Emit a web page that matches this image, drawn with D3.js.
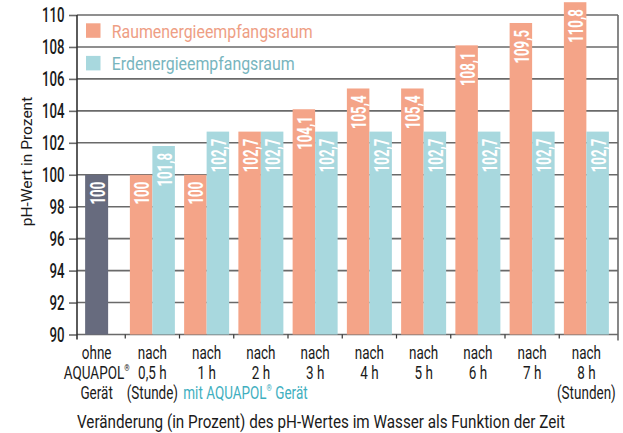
<!DOCTYPE html>
<html><head><meta charset="utf-8">
<script src="https://cdn.jsdelivr.net/npm/d3@7"></script>
<style>
body{margin:0;background:#fff;}
svg text{font-family:Roboto,"DejaVu Sans",sans-serif;}
</style></head>
<body><svg id="c" width="623" height="433"></svg>
<script>
const categories = ["ohne","0,5","1","2","3","4","5","6","7","8"];
const xLabelLines = [
  ["ohne","AQUAPOL®","Gerät"],
  ["nach","0,5 h","(Stunde)"],
  ["nach","1 h"],["nach","2 h"],["nach","3 h"],["nach","4 h"],
  ["nach","5 h"],["nach","6 h"],["nach","7 h"],["nach","8 h","(Stunden)"]
];
const baselineValue = [100];
const raumValues = [null,100,100,102.7,104.1,105.4,105.4,108.1,109.5,110.8];
const erdValues  = [null,101.8,102.7,102.7,102.7,102.7,102.7,102.7,102.7,102.7];
const seriesNames = ["Raumenergieempfangsraum","Erdenergieempfangsraum"];
const yTicks = [90,92,94,96,98,100,102,104,106,108,110];
const xTitle = "Veränderung (in Prozent) des pH-Wertes im Wasser als Funktion der Zeit";
const yTitle = "pH-Wert in Prozent";
const mitText = "mit AQUAPOL® Gerät";

const C = {raum:"#F4A488", erd:"#A8D8DE", base:"#676B7E", grid:"#6a6a6a",
           raumText:"#EE9E84", erdText:"#78B5BE", mit:"#3FAFC0", text:"#1a1a1a"};

const svg = d3.select("#c");
const L = 77, R = 618, T = 15, B = 334.5;
const y = d3.scaleLinear().domain([90,110]).range([B,T]);
const x = d3.scaleBand().domain(categories).range([71,613.5]).paddingInner(0).paddingOuter(0);
const inner = d3.scaleBand().domain(["raum","erd"]).range([0,45]);
const SX = 0.71;

function ctext(parent, xp, yp, str, size, sx, anchor, fill, weight){
  const t = parent.append("text").attr("transform",`translate(${xp},${yp}) scale(${sx},1)`)
    .attr("text-anchor",anchor).attr("font-size",size).attr("fill",fill).attr("font-weight",weight||400);
  if(str.includes("®")){
    const p = str.split("®");
    t.append("tspan").text(p[0]);
    t.append("tspan").attr("font-size",size*0.5).attr("dy",-size*0.38).text("®");
    if(p[1]) t.append("tspan").attr("dy",size*0.38).text(p[1]);
  } else t.text(str);
  return t;
}

// y axis ticks & gridlines
const yAxis = d3.axisLeft(y).tickValues(yTicks).tickSize(8).tickFormat(()=>"");
const gy = svg.append("g").attr("transform",`translate(${L},0)`).call(yAxis);
gy.select(".domain").remove();
gy.selectAll(".tick line").attr("stroke",C.grid).attr("stroke-width",1.6);
gy.selectAll(".tick text").remove();
yTicks.forEach(v=>ctext(svg, 64.5, y(v)+7, String(v), 19.5, 0.68, "end", C.text, 500));
svg.append("g").selectAll("line").data(yTicks).join("line")
  .attr("x1",L).attr("x2",R).attr("y1",d=>y(d)).attr("y2",d=>y(d))
  .attr("stroke",C.grid).attr("stroke-width",1.6);
svg.append("line").attr("x1",L).attr("x2",L).attr("y1",T).attr("y2",B+5).attr("stroke","#333").attr("stroke-width",1.6);
svg.append("line").attr("x1",R).attr("x2",R).attr("y1",T).attr("y2",B+6).attr("stroke",C.grid).attr("stroke-width",1.6);
const bounds = categories.slice(1).map(c=>x(c));
svg.append("g").selectAll("line").data(bounds).join("line")
  .attr("x1",d=>d).attr("x2",d=>d).attr("y1",B).attr("y2",B+4).attr("stroke","#333").attr("stroke-width",1.2);

const bw = inner.bandwidth();
const cx = c => x(c) + x.bandwidth()/2;
const fmt = v => String(v).replace(".",",");
const baseCx = cx(categories[0]) - 1.5;

// bars
const barsG = svg.append("g");
barsG.append("rect").attr("x",baseCx-11.5).attr("width",23)
  .attr("y",y(baselineValue[0])).attr("height",y(90)-y(baselineValue[0])).attr("fill",C.base);
const groups = categories.map((c,i)=>({c,raum:raumValues[i],erd:erdValues[i]})).filter(d=>d.raum!==null);
groups.forEach(g=>{
  const gx = cx(g.c) - 22.5;
  [["raum",g.raum],["erd",g.erd]].forEach(([k,v])=>{
    barsG.append("rect").attr("x",gx+inner(k)).attr("width",bw)
      .attr("y",y(v)).attr("height",y(90)-y(v)).attr("fill",C[k]);
  });
});

// value labels
function vLabel(xc, v){
  svg.append("text").attr("transform",`translate(${xc+8},${y(v)+7}) rotate(-90) scale(0.63,1)`)
    .attr("text-anchor","end").attr("fill","#fff").attr("font-size",21).attr("font-weight","bold")
    .text(fmt(v));
}
vLabel(baseCx, baselineValue[0]);
groups.forEach(g=>{
  const gx = cx(g.c) - 22.5;
  vLabel(gx+inner("raum")+bw/2, g.raum);
  vLabel(gx+inner("erd")+bw/2, g.erd);
});

// legend
const leg = [{n:seriesNames[0],f:C.raum,t:C.raumText,w:201},{n:seriesNames[1],f:C.erd,t:C.erdText,w:183}];
leg.forEach((d,i)=>{
  svg.append("rect").attr("x",86).attr("y",23.3+i*32.6).attr("width",14.5).attr("height",14.5).attr("fill",d.f);
  svg.append("text").attr("x",111.7).attr("y",37.7+i*32.4).attr("font-size",17.8).attr("fill",d.t)
    .attr("textLength",d.w).attr("lengthAdjust","spacingAndGlyphs").text(d.n);
});

// x labels
xLabelLines.forEach((lines,i)=>{
  const xc = i===0 ? baseCx : cx(categories[i]);
  lines.forEach((s,j)=>{
    ctext(svg, xc, 358.5+j*20, s, 19, SX, "middle", C.text, 400);
  });
});
ctext(svg, 183.3, 398.5, mitText, 19, SX, "start", C.mit, 400);

// titles
svg.append("text").attr("x",77).attr("y",428).attr("font-size",18.5)
  .attr("fill",C.text).attr("textLength",488).attr("lengthAdjust","spacingAndGlyphs").text(xTitle);
svg.append("text").attr("transform",`translate(32,161.5) rotate(-90)`).attr("text-anchor","middle")
  .attr("font-size",15.5).attr("fill",C.text).text(yTitle);
</script></body></html>
